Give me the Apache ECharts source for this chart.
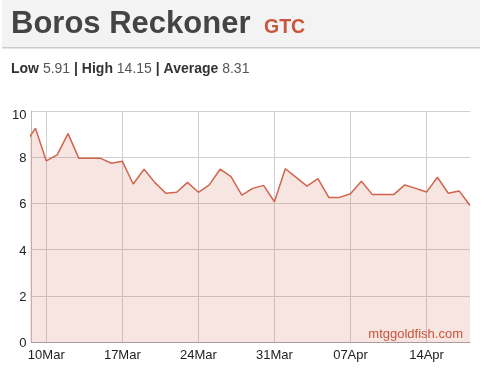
<!DOCTYPE html>
<html><head><meta charset="utf-8">
<script src="https://cdn.jsdelivr.net/npm/echarts@6/dist/echarts.min.js"></script>
<style>html,body{margin:0;padding:0;background:#fff}#c{width:486px;height:368px}</style>
</head><body><div id="c"></div>
<script>
const cardName = 'Boros Reckoner';
const setCode = 'GTC';
const statLabels = ['Low', 'High', 'Average'];
const statValues = ['5.91', '14.15', '8.31'];
const watermark = 'mtggoldfish.com';

const dates = [
  '2013-03-08','2013-03-09','2013-03-10','2013-03-11','2013-03-12','2013-03-13','2013-03-14',
  '2013-03-15','2013-03-16','2013-03-17','2013-03-18','2013-03-19','2013-03-20','2013-03-21',
  '2013-03-22','2013-03-23','2013-03-24','2013-03-25','2013-03-26','2013-03-27','2013-03-28',
  '2013-03-29','2013-03-30','2013-03-31','2013-04-01','2013-04-02','2013-04-03','2013-04-04',
  '2013-04-05','2013-04-06','2013-04-07','2013-04-08','2013-04-09','2013-04-10','2013-04-11',
  '2013-04-12','2013-04-13','2013-04-14','2013-04-15','2013-04-16','2013-04-17','2013-04-18'
];
const prices = [
  8.55, 9.25, 7.84, 8.10, 9.02, 7.95, 7.95,
  7.95, 7.74, 7.82, 6.84, 7.48, 6.90, 6.44,
  6.48, 6.91, 6.48, 6.80, 7.48, 7.16, 6.36,
  6.65, 6.78, 6.07, 7.50, 7.13, 6.75, 7.07,
  6.26, 6.26, 6.42, 6.96, 6.39, 6.39, 6.39,
  6.80, 6.65, 6.49, 7.13, 6.44, 6.54, 5.91
];
const xTickDates = ['2013-03-10','2013-03-17','2013-03-24','2013-03-31','2013-04-07','2013-04-14'];
const monthNames = ['Jan','Feb','Mar','Apr','May','Jun','Jul','Aug','Sep','Oct','Nov','Dec'];
const xMin = '2013-03-08T15:20:00Z';
const xMax = '2013-04-18T00:00:00Z';
const yMin = 0, yMax = 10, yStep = 2;

const FONT = 'Arial, "Liberation Sans", sans-serif';
const lineColor = '#d0654e';
const ts = s => Date.parse(s.length === 10 ? s + 'T00:00:00Z' : s);

const statRich = statLabels.map((l, i) => '{b|' + l + '} {n|' + statValues[i] + '}').join(' | ');

const chart = echarts.init(document.getElementById('c'), null, {renderer: 'canvas'});
chart.setOption({
  animation: false,
  backgroundColor: '#fff',
  grid: {left: 31.5, right: 16, top: 111, bottom: 26, containLabel: false},
  xAxis: {
    type: 'value',
    min: ts(xMin),
    max: ts(xMax),
    axisLine: {show: true, onZero: false, lineStyle: {color: '#a89c9c', width: 1}},
    axisTick: {show: false, customValues: xTickDates.map(ts)},
    axisLabel: {
      customValues: xTickDates.map(ts),
      color: '#222', fontSize: 13, fontFamily: FONT, margin: 7,
      formatter: function (v) {
        const d = new Date(v);
        const dd = d.getUTCDate();
        return (dd < 10 ? '0' : '') + dd + monthNames[d.getUTCMonth()];
      }
    },
    splitLine: {show: true, lineStyle: {color: '#cfcfcf', width: 1}}
  },
  yAxis: {
    type: 'value',
    min: yMin, max: yMax, interval: yStep,
    axisLine: {show: true, lineStyle: {color: '#bdbdbd', width: 1}},
    axisTick: {show: false},
    axisLabel: {
      color: '#222', fontSize: 13, fontFamily: FONT, margin: 5,
      formatter: function (v) { return v === yMax ? '{top|' + v + '}' : '{n|' + v + '}'; },
      rich: {
        top: {color: '#222', fontSize: 13, fontFamily: FONT, padding: [8, 0, 0, 0]},
        n: {color: '#222', fontSize: 13, fontFamily: FONT, padding: [3, 0, 0, 0]}
      }
    },
    splitLine: {show: true, lineStyle: {color: '#cfcfcf', width: 1}}
  },
  series: [{
    type: 'line',
    data: dates.map((d, i) => [ts(d), prices[i]]),
    showSymbol: false,
    symbol: 'none',
    clip: true,
    lineStyle: {color: lineColor, width: 1.5},
    itemStyle: {color: lineColor},
    areaStyle: {color: lineColor, opacity: 0.17}
  }],
  graphic: [
    {type: 'rect', left: 2, top: 0, shape: {width: 478, height: 47}, style: {fill: '#f3f3f3'}, z: 0},
    {type: 'rect', left: 2, top: 47, shape: {width: 478, height: 1.5}, style: {fill: '#cccccc'}, z: 0},
    {type: 'text', left: 11, top: 9, z: 10,
      style: {text: cardName, fill: '#444', font: 'bold 31px ' + FONT}},
    {type: 'text', left: 264, top: 17.5, z: 10,
      style: {text: setCode, fill: '#c9553a', font: 'bold 19.5px ' + FONT}},
    {type: 'text', left: 11, top: 62, z: 10,
      style: {
        text: statRich, fill: '#333', font: 'bold 14px ' + FONT,
        rich: {
          b: {fontWeight: 'bold', fontSize: 14, fontFamily: FONT, fill: '#333'},
          n: {fontWeight: 'normal', fontSize: 14, fontFamily: FONT, fill: '#555'}
        }
      }},
    {type: 'text', right: 23, top: 327.5, z: 10,
      style: {text: watermark, fill: '#c9553a', font: '13px ' + FONT}}
  ]
});
</script></body></html>
